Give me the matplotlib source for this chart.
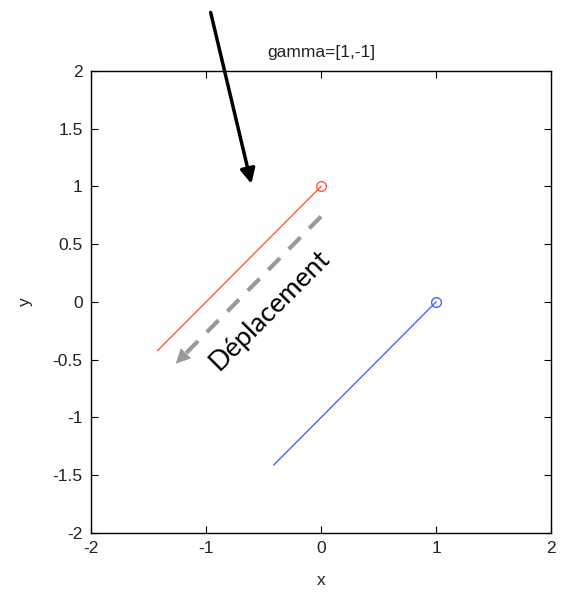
import matplotlib.pyplot as plt

# trajectories (start point marked with a circle)
red_x = [0, -1.42]
red_y = [1, -0.42]
blue_x = [1, -0.41]
blue_y = [0, -1.41]

ticks_x = [-2, -1, 0, 1, 2]
ticks_y = [-2, -1.5, -1, -0.5, 0, 0.5, 1, 1.5, 2]

plt.rcParams['font.family'] = ['Liberation Sans', 'DejaVu Sans']

fig = plt.figure(figsize=(5.61, 5.98), dpi=100)
ax = fig.add_axes([0.1622, 0.1087, 0.82, 0.7726])

ax.plot(red_x, red_y, color='#ff5a3c', lw=1)
ax.plot(red_x[0], red_y[0], 'o', mfc='none', mec='#ff5a3c', ms=7, mew=1)
ax.plot(blue_x, blue_y, color='#4a64ff', lw=1)
ax.plot(blue_x[0], blue_y[0], 'o', mfc='none', mec='#4a64ff', ms=7, mew=1)

ax.set_xlim(-2, 2)
ax.set_ylim(-2, 2)
ax.set_xticks(ticks_x)
ax.set_yticks(ticks_y)
ax.set_yticklabels(['-2', '-1.5', '-1', '-0.5', '0', '0.5', '1', '1.5', '2'])
ax.set_xticklabels(['-2', '-1', '0', '1', '2'])
ax.tick_params(direction='in', top=True, right=True, length=5, labelsize=12.5,
               pad=6, labelcolor='#222222')
for s in ax.spines.values():
    s.set_linewidth(1)

ax.set_title('gamma=[1,-1]', fontsize=12.5, pad=10, color='#222222')
ax.set_xlabel('x', fontsize=12.5, labelpad=12, color='#222222')
ax.set_ylabel('y', fontsize=12.5, labelpad=14, color='#222222')

# black arrow coming from above the axes
ax.annotate('', xy=(-0.6, 1.0), xytext=(-0.965, 2.53),
            arrowprops=dict(arrowstyle='-|>', color='black', lw=2.5,
                            mutation_scale=22),
            annotation_clip=False)

# grey dashed arrow showing the displacement
ax.plot([0.0, -1.18], [0.74, -0.45], color='#999999', lw=3,
        linestyle=(0, (4, 3)), solid_capstyle='butt')
ax.annotate('', xy=(-1.28, -0.55), xytext=(-1.15, -0.42),
            arrowprops=dict(arrowstyle='-|>', color='#999999', lw=0.5,
                            mutation_scale=24))
ax.text(-0.45, -0.07, 'Déplacement', rotation=45, fontsize=19.5,
        family='Lato', ha='center', va='center', rotation_mode='anchor')

fig.savefig('out.png', dpi=100)
